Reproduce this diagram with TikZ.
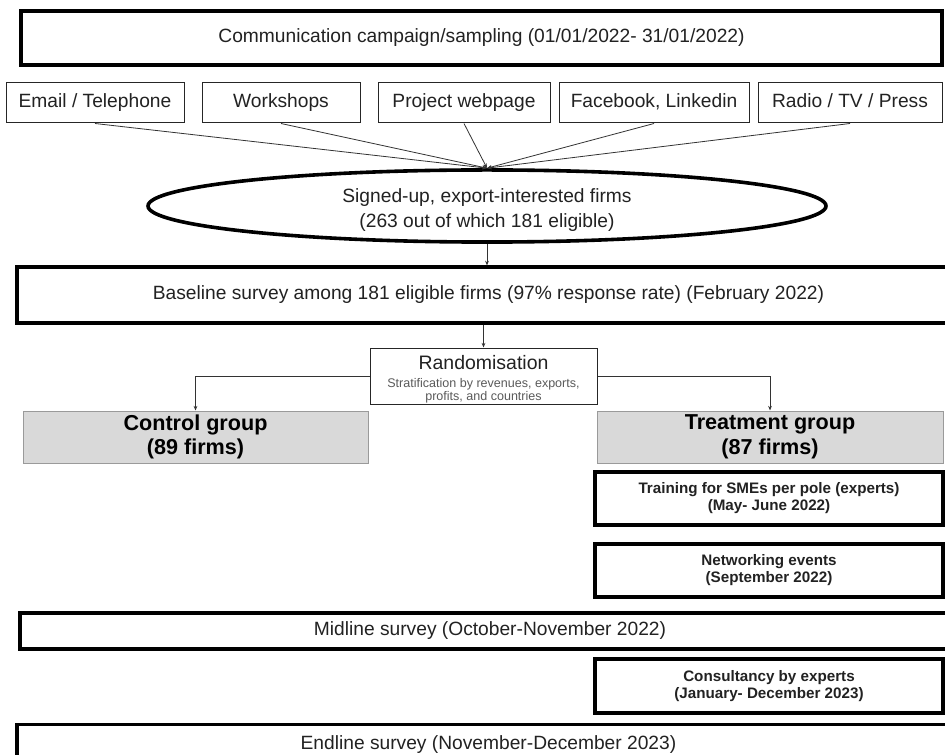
\documentclass[tikz,border=0pt]{standalone}
\usepackage{fontspec}
\setmainfont{Liberation Sans}
\usetikzlibrary{shapes.geometric,arrows.meta}
\definecolor{grpfill}{HTML}{D9D9D9}
\definecolor{grpline}{HTML}{9A9A9A}
\definecolor{txt}{HTML}{222222}
\definecolor{subtxt}{HTML}{5A5A5A}
\tikzset{
  thickbox/.style={draw=black, line width=2.4pt, rectangle, inner sep=0pt, align=center, text=txt,
    font=\fontsize{14.4}{18.75}\selectfont},
  thinbox/.style={draw=black!85, line width=0.75pt, rectangle, inner sep=0pt, align=center, text=txt,
    font=\fontsize{14.4}{18.75}\selectfont},
  srcbox/.style={thinbox, text height=10.5pt, text depth=3pt, minimum height=40*0.75pt},
  grpbox/.style={draw=grpline, fill=grpfill, line width=0.75pt, rectangle, inner sep=0pt, align=center,
    text=black, font=\bfseries\fontsize{16.2}{18.5}\selectfont},
  actbox/.style={draw=black, line width=2.4pt, rectangle, inner sep=0pt, align=center, text=txt,
    font=\bfseries\fontsize{11.4}{12.75}\selectfont, minimum width=348*0.75pt},
  conn/.style={draw=black!80, line width=0.6pt},
  arr/.style={conn, -{Stealth[length=3.5pt,width=2.8pt]}},
}
\begin{document}
\begin{tikzpicture}[x=0.75pt,y=-0.75pt]
\useasboundingbox (0,0) rectangle (945,755);
\clip (0,0) rectangle (945,755);
\fill[white] (0,0) rectangle (945,755);

\node[thickbox, minimum width=921*0.75pt, minimum height=54*0.75pt] (camp) at (481.5,38)
  {Communication campaign/sampling (01/01/2022- 31/01/2022)};

\node[srcbox, minimum width=178*0.75pt] (email) at (95,103) {Email / Telephone};
\node[srcbox, minimum width=158*0.75pt] (work) at (281,103) {Workshops};
\node[srcbox, minimum width=172*0.75pt] (web) at (464,103) {Project webpage};
\node[srcbox, minimum width=190*0.75pt] (fb) at (654,103) {Facebook, Linkedin};
\node[srcbox, minimum width=184*0.75pt] (radio) at (850,103) {Radio / TV / Press};

\node[ellipse, draw=black, line width=2.7pt, inner sep=0pt, align=center, text=txt,
  font=\fontsize{14.4}{18.75}\selectfont,
  minimum width=678*0.75pt, minimum height=68*0.75pt] (firms) at (487,206)
  {\rule{0pt}{16.5pt}Signed-up, export-interested firms\\(263 out of which 181 eligible)};

\foreach \s in {email,work,web,fb,radio}
  \draw[arr] (\s.south) -- (firms.north);

\node[thickbox, minimum width=943*0.75pt, minimum height=56*0.75pt] (base) at (488.5,295)
  {Baseline survey among 181 eligible firms (97\% response rate) (February 2022)};
\draw[arr] (firms.south) -- (firms.south |- base.north);

\node[thinbox, minimum width=227*0.75pt, minimum height=56*0.75pt,
  font=\fontsize{9.4}{9.75}\selectfont] (rand) at (483.5,376)
  {{\fontsize{14.6}{16}\selectfont\rule{0pt}{14.7pt}Randomisation}\\[3.75pt]
   \textcolor{subtxt}{Stratification by revenues, exports,}\\\textcolor{subtxt}{profits, and countries}};
\draw[arr] (rand.north |- base.south) -- (rand.north);

\node[grpbox, minimum width=345*0.75pt, minimum height=52*0.75pt] (ctrl) at (195.5,437)
  {Control group\\(89 firms)};
\node[grpbox, minimum width=346*0.75pt, minimum height=52*0.75pt] (treat) at (770,437)
  {Treatment group\\(87 firms)};
\draw[arr] (rand.west) -| (ctrl.north);
\draw[arr] (rand.east) -| (treat.north);

\node[actbox, minimum height=53*0.75pt] (train) at (769,498.5)
  {Training for SMEs per pole (experts)\\(May- June 2022)};
\node[actbox, minimum height=53*0.75pt] (net) at (769,570.5)
  {Networking events\\(September 2022)};

\node[thickbox, minimum width=940*0.75pt, minimum height=36*0.75pt] (mid) at (490,631)
  {Midline survey (October-November 2022)};

\node[actbox, minimum height=54*0.75pt] (cons) at (769,686)
  {Consultancy by experts\\(January- December 2023)};

\node[thickbox, minimum width=943*0.75pt, minimum height=40*0.75pt, anchor=north] (end) at (488.5,723)
  {Endline survey (November-December 2023)};
\end{tikzpicture}
\end{document}
